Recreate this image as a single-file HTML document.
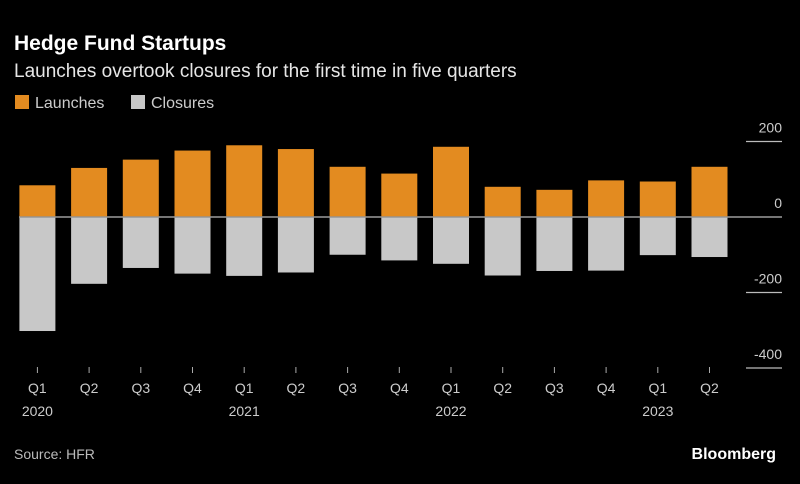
<!DOCTYPE html>
<html><head><meta charset="utf-8"><style>
body{margin:0;background:#000;width:800px;height:479px;overflow:hidden;font-family:"Liberation Sans",sans-serif;color:#fff}
</style></head><body>
<svg width="800" height="479">
<text x="14" y="50" font-size="21" font-weight="bold" fill="#fff">Hedge Fund Startups</text>
<text x="14" y="77" font-size="19" fill="#e6e6e6">Launches overtook closures for the first time in five quarters</text>
<g>
<rect x="15" y="95" width="14" height="14" fill="#e38b20"/>
<text x="35" y="108" font-size="16" fill="#ccc">Launches</text>
<rect x="131" y="95" width="14" height="14" fill="#c8c8c8"/>
<text x="151" y="108" font-size="16" fill="#ccc">Closures</text>
</g>
<g id="plot"></g>
<text x="14" y="459" font-size="14" fill="#bbb">Source: HFR</text>
<text x="776" y="459" font-size="16" font-weight="bold" fill="#fff" text-anchor="end">Bloomberg</text>
</svg>
<script>
const quarters=["Q1","Q2","Q3","Q4","Q1","Q2","Q3","Q4","Q1","Q2","Q3","Q4","Q1","Q2"];
const years=["2020","","","","2021","","","","2022","","","","2023",""];
const launches=[84,130,152,176,190,180,133,115,186,80,72,97,94,133];
const closures=[-302,-177,-135,-150,-156,-147,-100,-115,-124,-155,-143,-142,-101,-106];
const yTicks=[200,0,-200,-400];
const NS="http://www.w3.org/2000/svg";
const g=document.getElementById('plot');
const y0=217,k=0.3775;
function y(v){return y0-v*k;}
function x(i){return 19.4+i*51.7;}
const bw=36;
function el(t,a){const e=document.createElementNS(NS,t);for(const n in a)e.setAttribute(n,a[n]);g.appendChild(e);return e;}
yTicks.forEach(v=>{
 const l=el('line',{x1:v===0?19:746,x2:782,y1:y(v),y2:y(v),stroke:'#bbb','stroke-width':1.3});
 
 
 const t=el('text',{x:782,y:y(v)-9,'font-size':14,fill:'#ccc','text-anchor':'end'});
 t.textContent=v;
 
 
});
launches.forEach((v,i)=>{
 const r=el('rect',{x:x(i),y:y(v),width:bw,height:y(0)-y(v)-0.7,fill:'#e38b20'});
 
 
});
closures.forEach((v,i)=>{
 const r=el('rect',{x:x(i),y:y(0)+0.7,width:bw,height:y(v)-y(0)-0.7,fill:'#c8c8c8'});
 
 
});
quarters.forEach((q,i)=>{
 const cx=x(i)+bw/2;
 const tk=el('line',{x1:cx,x2:cx,y1:367,y2:373,stroke:'#aaa','stroke-width':1});
 
 
 const t=el('text',{x:cx,y:393,'font-size':14,fill:'#ccc','text-anchor':'middle'});
 t.textContent=q;
 
 
 if(years[i]){
  const yt=el('text',{x:cx,y:416,'font-size':14,fill:'#ccc','text-anchor':'middle'});
  yt.textContent=years[i];
  
  
 }
});
</script>
</body></html>
